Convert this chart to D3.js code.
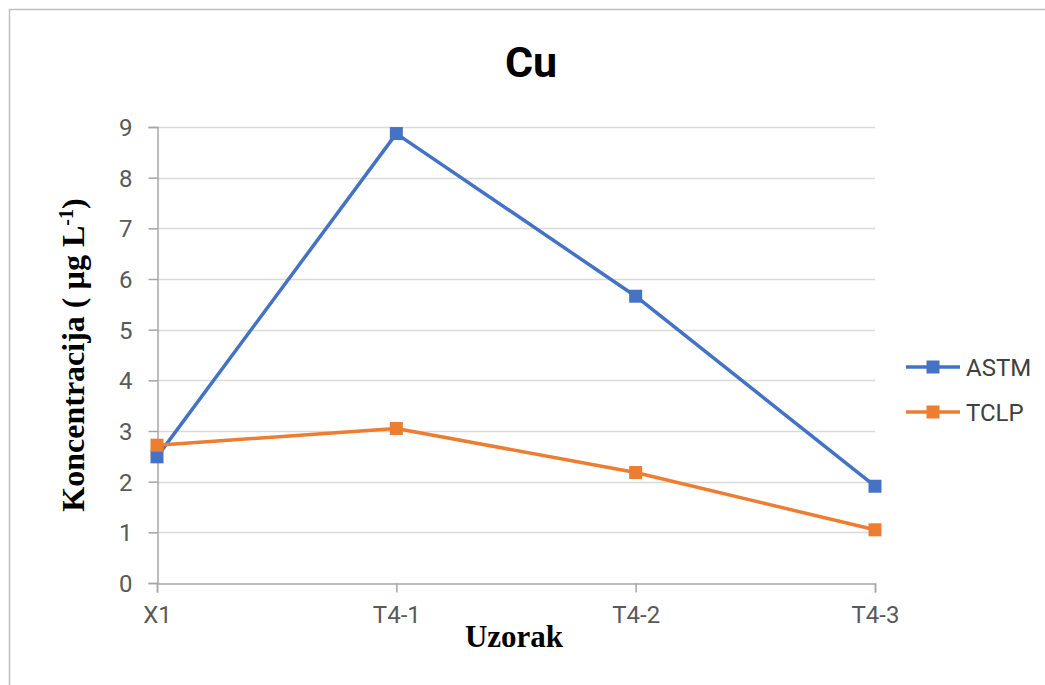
<!DOCTYPE html>
<html>
<head>
<meta charset="utf-8">
<script src="https://cdn.jsdelivr.net/npm/d3@7"></script>
<style>
  html, body { margin: 0; padding: 0; background: #fff; }
  svg { display: block; }
</style>
</head>
<body>
<svg id="chart" width="1045" height="685"></svg>
<script>
const categories = ["X1", "T4-1", "T4-2", "T4-3"];
const astm = [2.49, 8.87, 5.66, 1.91];
const tclp = [2.72, 3.05, 2.18, 1.05];
const yTicks = [0, 1, 2, 3, 4, 5, 6, 7, 8, 9];
const seriesNames = ["ASTM", "TCLP"];
const seriesColors = ["#4472C4", "#ED7D31"];

const W = 1045, H = 685;
const plot = { left: 157, right: 875, top: 127, bottom: 583 };
const tickFont = "Roboto, 'Open Sans', sans-serif";
const serif = "'Liberation Serif', 'Times New Roman', serif";

const svg = d3.select("#chart");

// frame
svg.append("rect").attr("x", 9.5).attr("y", 9.5)
  .attr("width", W + 20).attr("height", H + 20)
  .attr("fill", "#fff").attr("stroke", "#bfbfbf").attr("stroke-width", 1.5);

const x = d3.scalePoint().domain(categories).range([plot.left, plot.right]);
const y = d3.scaleLinear().domain([0, 9]).range([plot.bottom, plot.top]);

// gridlines
svg.append("g").selectAll("line").data(yTicks.filter(d => d > 0)).join("line")
  .attr("x1", plot.left).attr("x2", plot.right)
  .attr("y1", d => Math.round(y(d)) + 0.5).attr("y2", d => Math.round(y(d)) + 0.5)
  .attr("stroke", "#d9d9d9").attr("stroke-width", 1.5);

// y axis
const yAxis = svg.append("g").attr("transform", `translate(${plot.left + 0.5},0)`)
  .call(d3.axisLeft(y).tickValues(yTicks).tickSize(9).tickPadding(16).tickFormat(d3.format("d")));
yAxis.select(".domain").attr("stroke", "#a6a6a6").attr("stroke-width", 1.5);
yAxis.selectAll(".tick line").attr("stroke", "#a6a6a6").attr("stroke-width", 1.5);
yAxis.selectAll(".tick text").attr("font-family", tickFont).attr("font-size", 24)
  .attr("fill", "#595959").attr("dy", "0.36em");

// x axis
const xAxis = svg.append("g").attr("transform", `translate(0,${plot.bottom + 0.5})`)
  .call(d3.axisBottom(x).tickSize(9).tickPadding(17));
xAxis.select(".domain").attr("stroke", "#a6a6a6").attr("stroke-width", 1.5);
xAxis.selectAll(".tick line").attr("stroke", "#a6a6a6").attr("stroke-width", 1.5);
xAxis.selectAll(".tick text").attr("font-family", tickFont).attr("font-size", 24)
  .attr("fill", "#595959").attr("dy", "0.55em");

// lines and markers
const data = [astm, tclp];
const line = d3.line().x((d, i) => x(categories[i])).y(d => y(d));
data.forEach((vals, si) => {
  svg.append("path").datum(vals).attr("d", line)
    .attr("fill", "none").attr("stroke", seriesColors[si]).attr("stroke-width", 3.5)
    .attr("stroke-linejoin", "round");
});
data.forEach((vals, si) => {
  svg.append("g").selectAll("rect").data(vals).join("rect")
    .attr("x", (d, i) => x(categories[i]) - 6.5).attr("y", d => y(d) - 6.5)
    .attr("width", 13).attr("height", 13)
    .attr("fill", seriesColors[si]);
});

// title
svg.append("text").attr("x", 531).attr("y", 77).attr("text-anchor", "middle")
  .attr("font-family", tickFont).attr("font-weight", "bold").attr("font-size", 43)
  .attr("fill", "#000").text("Cu");

// axis titles
svg.append("text").attr("x", (plot.left + plot.right) / 2 - 2).attr("y", 647)
  .attr("text-anchor", "middle").attr("font-family", serif).attr("font-weight", "bold")
  .attr("font-size", 31).attr("fill", "#000").text("Uzorak");

const yt = svg.append("text")
  .attr("transform", `translate(84,${(plot.top + plot.bottom) / 2}) rotate(-90)`)
  .attr("text-anchor", "middle").attr("font-family", serif).attr("font-weight", "bold")
  .attr("font-size", 32).attr("fill", "#000");
yt.append("tspan").text("Koncentracija (  µg L");
yt.append("tspan").attr("dy", -11).attr("font-size", 20).text("-1");
yt.append("tspan").attr("dy", 11).text(")");

// legend
const legend = svg.append("g");
seriesNames.forEach((name, i) => {
  const ly = 367 + i * 45;
  legend.append("line").attr("x1", 906).attr("x2", 960).attr("y1", ly).attr("y2", ly)
    .attr("stroke", seriesColors[i]).attr("stroke-width", 3.5);
  legend.append("rect").attr("x", 933 - 6.5).attr("y", ly - 6.5).attr("width", 13).attr("height", 13)
    .attr("fill", seriesColors[i]);
  legend.append("text").attr("x", 966).attr("y", ly).attr("dy", "0.36em")
    .attr("font-family", tickFont).attr("font-size", 24).attr("fill", "#404040").text(name);
});
</script>
</body>
</html>
